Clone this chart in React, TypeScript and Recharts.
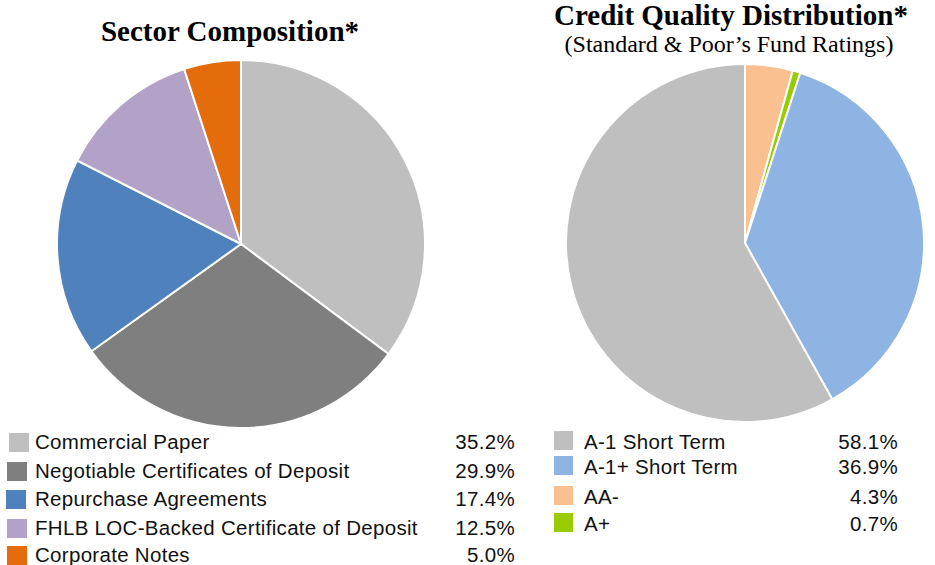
import { Cell, Pie, PieChart } from "recharts";

const sectorNames = [
  "Commercial Paper",
  "Negotiable Certificates of Deposit",
  "Repurchase Agreements",
  "FHLB LOC-Backed Certificate of Deposit",
  "Corporate Notes",
];
const sectorValues = [35.2, 29.9, 17.4, 12.5, 5.0];
const sectorColors = ["#BFBFBF", "#7F7F7F", "#4F81BD", "#B3A2C7", "#E46C0A"];

// pie order (clockwise from 12 o'clock)
const creditNames = ["AA-", "A+", "A-1+ Short Term", "A-1 Short Term"];
const creditValues = [4.3, 0.7, 36.9, 58.1];
const creditColors = ["#FAC090", "#99CC00", "#8EB4E3", "#BFBFBF"];
// legend order
const creditLegendOrder = ["A-1 Short Term", "A-1+ Short Term", "AA-", "A+"];

const sectorData = sectorNames.map((name, i) => ({ name, value: sectorValues[i] }));
const creditData = creditNames.map((name, i) => ({ name, value: creditValues[i] }));

const W = 935;
const H = 565;

const sans = "'Liberation Sans', Arial, sans-serif";
const serif = "'Liberation Serif', 'Times New Roman', serif";

// legend baselines
const leftRows = [449, 478, 506, 535, 562];
const leftSquareX = [9, 7, 6, 7, 7];
const rightRows = [449, 474, 504, 531];

const legendText = { fontFamily: sans, fontSize: 20.5, letterSpacing: 0.3, fill: "#111" };

export default function App() {
  return (
    <div style={{ position: "absolute", left: 0, top: 0, width: W, height: H, background: "#fff" }}>
      <PieChart width={W} height={H} margin={{ top: 0, right: 0, bottom: 0, left: 0 }}>
        <Pie
          data={sectorData}
          dataKey="value"
          nameKey="name"
          cx={241}
          cy={244}
          outerRadius={184}
          startAngle={90}
          endAngle={-270}
          stroke="#fff"
          strokeWidth={2}
          isAnimationActive={false}
        >
          {sectorData.map((d, i) => (
            <Cell key={d.name} fill={sectorColors[i]} />
          ))}
        </Pie>
        <Pie
          data={creditData}
          dataKey="value"
          nameKey="name"
          cx={745}
          cy={243}
          outerRadius={179}
          startAngle={90}
          endAngle={-270}
          stroke="#fff"
          strokeWidth={2}
          isAnimationActive={false}
        >
          {creditData.map((d, i) => (
            <Cell key={d.name} fill={creditColors[i]} />
          ))}
        </Pie>
      </PieChart>
      <svg
        width={W}
        height={H}
        style={{ position: "absolute", left: 0, top: 0, pointerEvents: "none" }}
      >
        <text x={230} y={41} textAnchor="middle" fontFamily={serif} fontWeight="bold" fontSize={29}>
          Sector Composition*
        </text>
        <text x={731} y={25} textAnchor="middle" fontFamily={serif} fontWeight="bold" fontSize={29}>
          Credit Quality Distribution*
        </text>
        <text x={729} y={52} textAnchor="middle" fontFamily={serif} fontSize={24}>
          (Standard &amp; Poor’s Fund Ratings)
        </text>

        {sectorNames.map((name, i) => (
          <g key={name}>
            <rect x={leftSquareX[i]} y={leftRows[i] - 16} width={20} height={19} fill={sectorColors[i]} />
            <text x={35} y={leftRows[i]} {...legendText}>
              {name}
            </text>
            <text x={515} y={leftRows[i]} textAnchor="end" {...legendText}>
              {sectorValues[i].toFixed(1)}%
            </text>
          </g>
        ))}

        {creditLegendOrder.map((name, i) => {
          const idx = creditNames.indexOf(name);
          return (
            <g key={name}>
              <rect x={554} y={rightRows[i] - 18} width={19} height={19} fill={creditColors[idx]} />
              <text x={584} y={rightRows[i]} {...legendText}>
                {name}
              </text>
              <text x={898} y={rightRows[i]} textAnchor="end" {...legendText}>
                {creditValues[idx].toFixed(1)}%
              </text>
            </g>
          );
        })}
      </svg>
    </div>
  );
}
